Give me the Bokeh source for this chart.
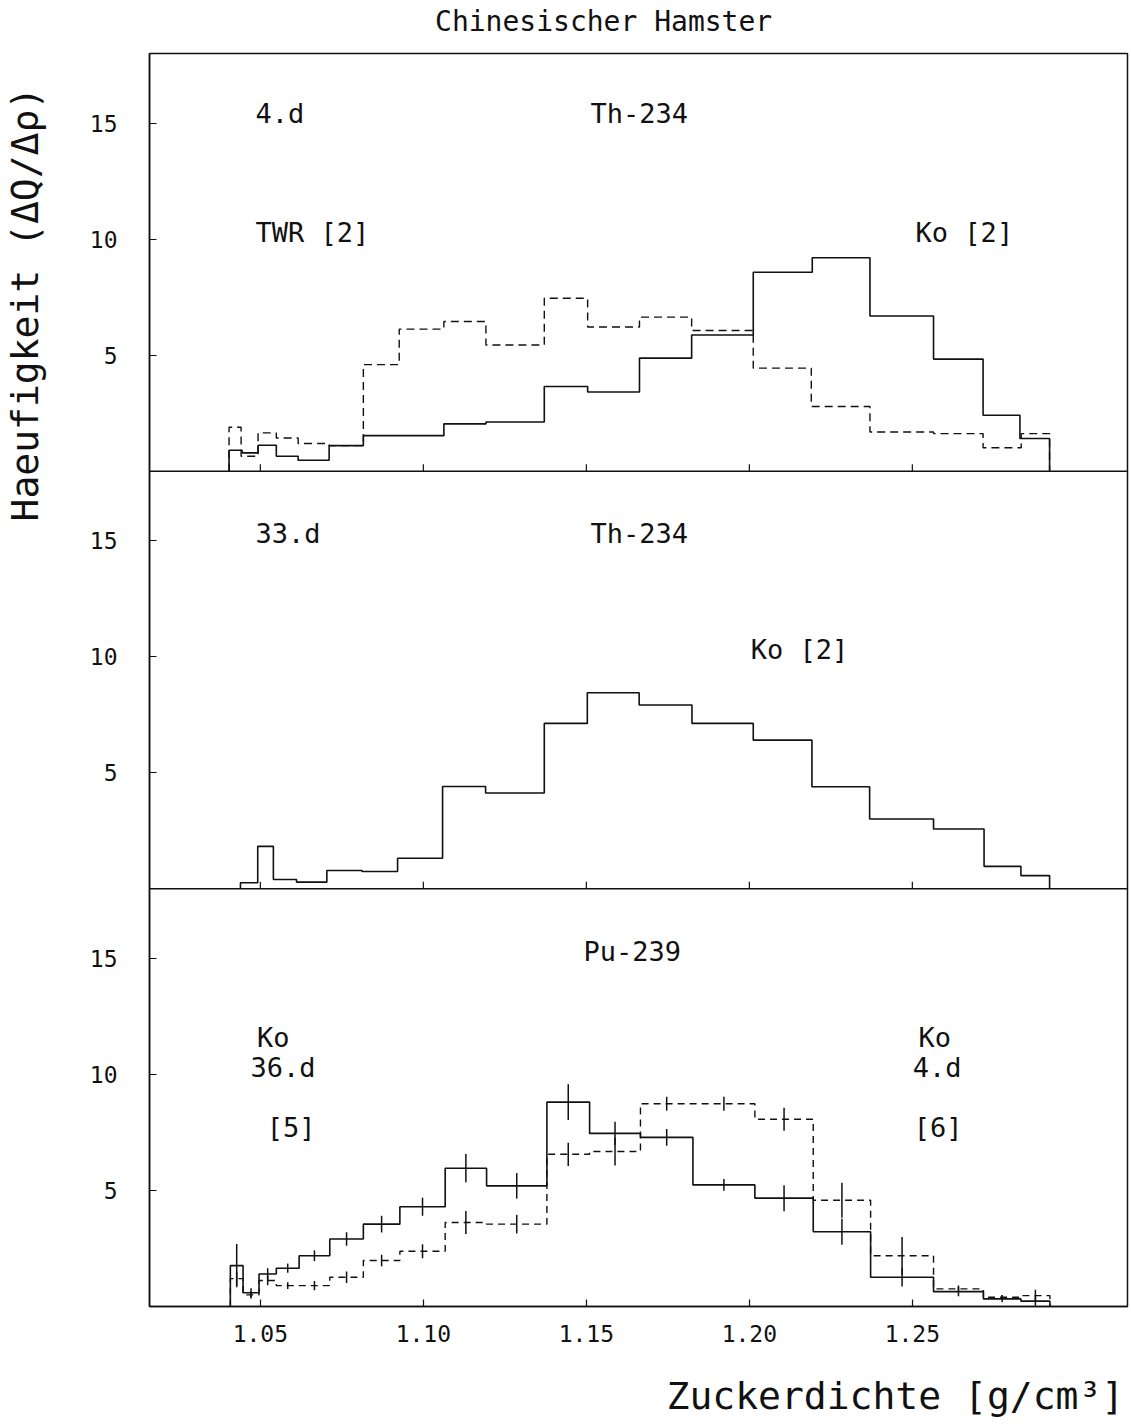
import numpy as np
from bokeh.plotting import figure
from bokeh.models import Label, Span, FixedTicker, Range1d, LinearAxis
from bokeh.embed import file_html
from bokeh.resources import INLINE

# ---------------- data ----------------
# Panel 1 : Th-234, 4.d  (solid = Ko [2], dashed = TWR [2])
th4_ko_edges = [1.0404, 1.0444, 1.0493, 1.0549, 1.0616, 1.0711, 1.0816, 1.1063, 1.1192, 1.1371,
                1.1504, 1.1663, 1.1823, 1.2012, 1.2193, 1.2370, 1.2565, 1.2717, 1.2830, 1.2921]
th4_ko_vals = [0.90, 0.79, 1.12, 0.64, 0.47, 1.10, 1.53, 2.04, 2.12, 3.65,
               3.41, 4.87, 5.87, 8.57, 9.20, 6.69, 4.83, 2.41, 1.41]
th4_twr_edges = [1.0404, 1.0441, 1.0493, 1.0549, 1.0616, 1.0711, 1.0816, 1.0926, 1.1063, 1.1192,
                 1.1371, 1.1504, 1.1663, 1.1823, 1.2012, 1.2190, 1.2370, 1.2565, 1.2717, 1.2834, 1.2921]
th4_twr_vals = [1.89, 0.64, 1.65, 1.43, 1.19, 1.10, 4.59, 6.12, 6.45, 5.44,
                7.45, 6.21, 6.64, 6.06, 4.44, 2.79, 1.69, 1.62, 1.01, 1.62]

# Panel 2 : Th-234, 33.d  (Ko [2])
th33_edges = [1.0439, 1.0492, 1.0540, 1.0611, 1.0704, 1.0812, 1.0921, 1.1059, 1.1191, 1.1371,
              1.1503, 1.1662, 1.1824, 1.2012, 1.2192, 1.2369, 1.2565, 1.2720, 1.2833, 1.2921]
th33_vals = [0.26, 1.83, 0.40, 0.29, 0.79, 0.75, 1.32, 4.41, 4.13, 7.13,
             8.45, 7.92, 7.13, 6.41, 4.40, 3.01, 2.58, 0.97, 0.57]

# Panel 3 : Pu-239  (solid = Ko 36.d [5], dashed = Ko 4.d [6])
pu_edges = [1.0408, 1.0447, 1.0496, 1.0549, 1.0619, 1.0713, 1.0816, 1.0928, 1.1067, 1.1194,
            1.1379, 1.1510, 1.1666, 1.1827, 1.2017, 1.2196, 1.2372, 1.2565, 1.2718, 1.2833, 1.2922]
pu36_vals = [1.76, 0.59, 1.40, 1.65, 2.19, 2.91, 3.55, 4.30, 5.96, 5.20,
             8.81, 7.46, 7.29, 5.24, 4.67, 3.22, 1.26, 0.64, 0.33, 0.23]
pu36_err = [0.93, 0.20, 0.25, 0.20, 0.23, 0.29, 0.36, 0.39, 0.61, 0.55,
            0.77, 0.50, 0.36, 0.25, 0.56, 0.56, 0.40, 0.20, 0.15, 0.20]
pu4_vals = [1.20, 0.50, 1.12, 0.90, 0.90, 1.26, 1.98, 2.38, 3.62, 3.55,
            6.56, 6.68, 8.74, 8.74, 8.07, 4.58, 2.19, 0.76, 0.40, 0.47]
pu4_err = [0.30, 0.15, 0.20, 0.15, 0.20, 0.25, 0.25, 0.30, 0.50, 0.40,
           0.50, 0.60, 0.30, 0.30, 0.50, 0.75, 0.80, 0.15, 0.10, 0.25]

x_ticks = [1.05, 1.10, 1.15, 1.20, 1.25]
x_tick_labels = ["1.05", "1.10", "1.15", "1.20", "1.25"]
y_ticks = [5, 10, 15]

# annotations: (text, x, y, panel)   panel 0 = top
ann_text = ["4.d", "Th-234", "TWR [2]", "Ko [2]",
            "33.d", "Th-234", "Ko [2]",
            "Pu-239", "Ko", "36.d", "[5]", "Ko", "4.d", "[6]"]
ann_x = [1.0485, 1.1513, 1.0485, 1.2510,
         1.0485, 1.1513, 1.2004,
         1.1491, 1.0490, 1.0470, 1.0520, 1.2519, 1.2501, 1.2504]
ann_y = [15.4, 15.4, 10.3, 10.3,
         15.3, 15.3, 10.3,
         15.3, 11.6, 10.3, 7.7, 11.6, 10.3, 7.7]
ann_panel = [0, 0, 0, 0, 1, 1, 1, 2, 2, 2, 2, 2, 2, 2]

title_text = "Chinesischer Hamster"
x_label = "Zuckerdichte [g/cm³]"
y_label = "Haeufigkeit (ΔQ/Δρ)"

PANEL_H = 18.0
N_PANELS = 3
X_LO, X_HI = 1.016, 1.316
# where the outer texts are centred (data units along their axis)
TITLE_AT, XLABEL_AT, YLABEL_AT = 1.1553, 1.2448, 43.2
FONT = "DejaVu Sans Mono"
INK = "#111111"


def offset(panel):
    return (N_PANELS - 1 - panel) * PANEL_H


def step_xy(edges, vals, off):
    xs, ys = [edges[0]], [off]
    for i, v in enumerate(vals):
        xs += [edges[i], edges[i + 1]]
        ys += [off + v, off + v]
    xs.append(edges[-1])
    ys.append(off)
    return xs, ys


p = figure(width=1131, height=1425, output_backend="svg", toolbar_location=None,
           x_range=Range1d(X_LO, X_HI), y_range=Range1d(0, PANEL_H * N_PANELS),
           min_border_left=149, min_border_right=4, min_border_top=53, min_border_bottom=119)
p.xgrid.visible = False
p.ygrid.visible = False
p.outline_line_color = INK
p.outline_line_width = 1.5
p.background_fill_color = "white"
p.border_fill_color = "white"

# axes
all_yticks = []
overrides = {}
for k in range(N_PANELS):
    for t in y_ticks:
        v = offset(k) + t
        all_yticks.append(v)
        overrides[v] = str(t)
p.yaxis.ticker = FixedTicker(ticks=all_yticks)
p.yaxis.major_label_overrides = overrides
p.xaxis.ticker = FixedTicker(ticks=x_ticks)
p.xaxis.major_label_overrides = dict(zip(x_ticks, x_tick_labels))
for ax in (p.xaxis, p.yaxis):
    ax.major_tick_in = 7
    ax.major_tick_out = 0
    ax.minor_tick_line_color = None
    ax.axis_line_color = INK
    ax.axis_line_width = 1.5
    ax.major_tick_line_color = INK
    ax.major_tick_line_width = 1.2
    ax.major_label_text_font = FONT
    ax.major_label_text_font_size = "23px"
    ax.major_label_text_color = INK
p.yaxis.major_label_standoff = 32
p.xaxis.major_label_standoff = 18


def text_axis(text, at, size, standoff, orientation="horizontal"):
    # an axis with one invisible tick whose label carries the text
    return LinearAxis(ticker=FixedTicker(ticks=[at]), major_label_overrides={at: text},
                      major_label_orientation=orientation,
                      axis_line_color=None, major_tick_line_color=None, minor_tick_line_color=None,
                      major_tick_in=0, major_tick_out=0, major_label_standoff=standoff,
                      major_label_text_font=FONT, major_label_text_font_size=size,
                      major_label_text_color=INK)


p.add_layout(text_axis(title_text, TITLE_AT, "28px", 16), "above")
p.add_layout(text_axis(x_label, XLABEL_AT, "38px", 29), "below")
p.add_layout(text_axis(y_label, YLABEL_AT, "38px", 39, "vertical"), "left")

# panel separators + their x ticks
for k in range(1, N_PANELS):
    sep = k * PANEL_H
    p.add_layout(Span(location=sep, dimension="width", line_color=INK, line_width=1.5))
    p.segment(x0=x_ticks, y0=[sep] * len(x_ticks), x1=x_ticks, y1=[sep + 0.3] * len(x_ticks),
              line_color=INK, line_width=1.2)

# histograms
xs, ys = step_xy(th4_twr_edges, th4_twr_vals, offset(0))
p.line(xs, ys, line_color=INK, line_width=1.4, line_dash="8 5")
xs, ys = step_xy(th4_ko_edges, th4_ko_vals, offset(0))
p.line(xs, ys, line_color=INK, line_width=1.6)

xs, ys = step_xy(th33_edges, th33_vals, offset(1))
p.line(xs, ys, line_color=INK, line_width=1.6)

xs, ys = step_xy(pu_edges, pu4_vals, offset(2))
p.line(xs, ys, line_color=INK, line_width=1.4, line_dash="7 5")
xs, ys = step_xy(pu_edges, pu36_vals, offset(2))
p.line(xs, ys, line_color=INK, line_width=1.6)

centers = [(pu_edges[i] + pu_edges[i + 1]) / 2 for i in range(len(pu36_vals))]
off3 = offset(2)
for vals, errs in ((pu36_vals, pu36_err), (pu4_vals, pu4_err)):
    p.segment(x0=centers, x1=centers,
              y0=[off3 + v - e for v, e in zip(vals, errs)],
              y1=[off3 + v + e for v, e in zip(vals, errs)],
              line_color=INK, line_width=1.5)

# annotations in the panels
for t, x, y, k in zip(ann_text, ann_x, ann_y, ann_panel):
    p.add_layout(Label(x=x, y=offset(k) + y, text=t, text_font=FONT, text_font_size="27px",
                       text_color=INK, text_baseline="middle", text_align="left"))

open("out.html", "w").write(file_html(p, INLINE))
